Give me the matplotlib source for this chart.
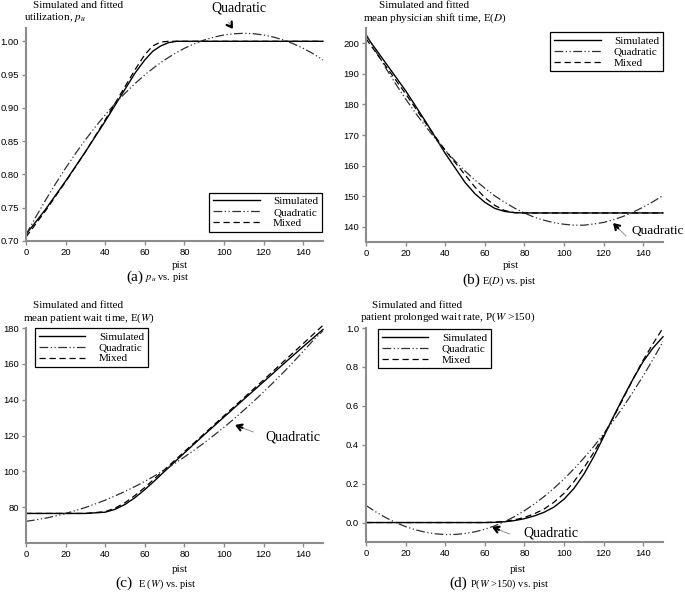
import matplotlib
matplotlib.use("Agg")
import matplotlib.pyplot as plt

plt.rcParams['mathtext.fontset'] = 'stix'
SERIF = ['Liberation Serif', 'DejaVu Serif']
SANS = ['Liberation Sans', 'DejaVu Sans']

# ---------------- data ----------------
pist_q = [0, 5, 10, 15, 20, 25, 30, 35, 40, 45, 50, 55, 60, 65, 70, 75,
          80, 85, 90, 95, 100, 105, 110, 115, 120, 125, 130, 135, 140, 145, 150]

# (a) utilization
pist_a = [0, 10, 20, 30, 40, 50, 55, 60, 64, 68, 72, 76, 80, 90, 100, 110, 120, 130, 140, 150]
util_sim = [0.710, 0.748, 0.790, 0.834, 0.880, 0.928, 0.952, 0.972, 0.985, 0.993, 0.998,
            1.0, 1.0, 1.0, 1.0, 1.0, 1.0, 1.0, 1.0, 1.0]
util_mix = [0.706, 0.746, 0.789, 0.834, 0.882, 0.932, 0.957, 0.980, 0.993, 0.999, 1.0,
            1.0, 1.0, 1.0, 1.0, 1.0, 1.0, 1.0, 1.0, 1.0]
util_quad = [0.7095, 0.7364, 0.762, 0.7864, 0.8095, 0.8314, 0.852, 0.8714, 0.8895, 0.9064,
             0.922, 0.9364, 0.9495, 0.9614, 0.972, 0.9814, 0.9895, 0.9964, 1.002, 1.0064,
             1.0095, 1.0114, 1.012, 1.0114, 1.0095, 1.0064, 1.002, 0.9964, 0.9895, 0.9814, 0.972]

# (b) mean physician shift time
pist_b = [0, 10, 20, 30, 40, 50, 55, 60, 65, 70, 75, 80, 90, 100, 110, 120, 130, 140, 150]
shift_sim = [202.5, 193.5, 184.5, 174.5, 164.0, 154.5, 150.8, 148.0, 146.0, 145.0, 144.6,
             144.5, 144.5, 144.5, 144.5, 144.5, 144.5, 144.5, 144.5]
shift_mix = [201.5, 192.5, 183.5, 174.0, 165.0, 157.0, 153.0, 149.5, 147.0, 145.3, 144.6,
             144.5, 144.5, 144.5, 144.5, 144.5, 144.5, 144.5, 144.5]
shift_quad = [203.0, 197.3, 191.9, 186.7, 181.8, 177.2, 172.9, 168.8, 165.0, 161.5, 158.2,
              155.3, 152.6, 150.1, 148.0, 146.1, 144.5, 143.1, 142.1, 141.3, 140.8, 140.5,
              140.5, 140.9, 141.4, 142.3, 143.4, 144.8, 146.4, 148.2, 150.2]

# (c) mean patient wait time
pist_c = [0, 10, 20, 30, 40, 45, 50, 55, 60, 65, 70, 80, 90, 100, 110, 120, 130, 140, 150]
wait_sim = [76.5, 76.5, 76.5, 76.5, 77.2, 78.8, 81.5, 85.3, 89.8, 94.8, 100.0, 110.3,
            120.4, 130.3, 140.2, 150.0, 159.9, 169.6, 179.2]
wait_mix = [76.5, 76.5, 76.5, 76.5, 77.5, 79.5, 82.5, 86.5, 91.0, 96.0, 101.0, 111.0,
            121.0, 131.0, 141.0, 151.0, 161.2, 171.3, 181.5]
wait_quad = [72.1, 72.9, 73.9, 75.1, 76.5, 78.1, 79.8, 81.8, 83.9, 86.3, 88.8, 91.5, 94.4,
             97.5, 100.8, 104.3, 108.0, 111.9, 115.9, 120.2, 124.6, 129.2, 134.1, 139.1,
             144.3, 149.7, 155.2, 161.0, 167.0, 173.0, 178.5]

# (d) prolonged wait rate
pist_d = [0, 10, 20, 30, 40, 50, 60, 65, 70, 75, 80, 85, 90, 95, 100, 105, 110, 115, 120,
          125, 130, 135, 140, 145, 150]
prol_sim = [0, 0, 0, 0, 0, 0, 0, 0.001, 0.004, 0.010, 0.020, 0.034, 0.053, 0.080, 0.120,
            0.175, 0.248, 0.338, 0.440, 0.545, 0.645, 0.740, 0.828, 0.898, 0.955]
prol_mix = [0, 0, 0, 0, 0, 0, 0, 0.002, 0.006, 0.014, 0.026, 0.045, 0.070, 0.105, 0.150,
            0.210, 0.280, 0.360, 0.450, 0.540, 0.640, 0.740, 0.835, 0.920, 1.0]
prol_quad = [0.088, 0.0544, 0.0251, 0.0, -0.0208, -0.0374, -0.0497, -0.0578, -0.0616, -0.0612,
             -0.0565, -0.0476, -0.0344, -0.017, 0.0047, 0.0306, 0.0608, 0.0952, 0.1339, 0.1768,
             0.224, 0.2754, 0.3311, 0.391, 0.4552, 0.5236, 0.5963, 0.6732, 0.7544, 0.8398, 0.93]

x_ticks = [0, 20, 40, 60, 80, 100, 120, 140]

# ---------------- figure ----------------
W, H = 685, 592
fig = plt.figure(figsize=(W / 100, H / 100), dpi=100)


def rect(x0, y0, x1, y1):
    return [x0 / W, 1 - y1 / H, (x1 - x0) / W, (y1 - y0) / H]


def ftext(x, y, s, size=8, ha='left', **kw):
    fig.text(x / W, 1 - y / H, s, fontsize=size, ha=ha, va='center',
             family=SERIF, **kw)


SIM_KW = dict(color='black', lw=1.0, ls='-', label='Simulated', clip_on=False)
QUAD_KW = dict(color='#303030', lw=0.9, ls=(0, (7, 2, 1, 2, 1, 2)), label='Quadratic', clip_on=False)
MIX_KW = dict(color='black', lw=0.9, ls=(0, (5, 3)), label='Mixed', clip_on=False)


def style(ax, ylim, yticks, yfmt):
    for s in ['top', 'right']:
        ax.spines[s].set_visible(False)
    for s in ['left', 'bottom']:
        ax.spines[s].set_color('#8c8c8c')
        ax.spines[s].set_linewidth(1.5)
    ax.set_xlim(0, 150)
    ax.set_ylim(*ylim)
    ax.set_xticks(x_ticks)
    ax.set_yticks(yticks)
    ax.set_yticklabels([yfmt.format(v) for v in yticks])
    ax.tick_params(direction='out', length=3, width=1, color='#8c8c8c',
                   labelsize=6.8, pad=2)
    for lab in ax.get_xticklabels() + ax.get_yticklabels():
        lab.set_family(SANS)


def legend(ax, loc, anchor):
    leg = ax.legend(loc=loc, bbox_to_anchor=anchor, borderaxespad=0,
                    fancybox=False, edgecolor='black', framealpha=1,
                    prop={'family': SERIF, 'size': 8}, handlelength=4.2,
                    labelspacing=0.1, borderpad=0.35, handletextpad=1.2)
    leg.get_frame().set_linewidth(0.9)


def arrow(x0, y0, x1, y1):
    # thin grey shaft, black head
    fig.add_artist(matplotlib.patches.FancyArrowPatch(
        (x0, H - y0), (x1, H - y1), transform=None, arrowstyle='-',
        color='#909090', lw=0.7))
    fig.add_artist(matplotlib.patches.FancyArrowPatch(
        (x1 + (x0 - x1) * 0.35, H - (y1 + (y0 - y1) * 0.35)), (x1, H - y1),
        transform=None, arrowstyle='->,head_length=3.5,head_width=2.2',
        color='black', lw=1.6, shrinkA=0, shrinkB=0))


# (a)
axa = fig.add_axes(rect(26, 28, 323, 241))
axa.plot(pist_a, util_sim, **SIM_KW)
axa.plot(pist_q, util_quad, **QUAD_KW)
axa.plot(pist_a, util_mix, **MIX_KW)
style(axa, (0.70, 1.02), [0.70, 0.75, 0.80, 0.85, 0.90, 0.95, 1.00], '{:.2f}')
legend(axa, 'lower right', (0.997, 0.042))
ftext(33, 6, 'Simulated and fitted')
ftext(24, 18, 'utilization, $p_u$')
ftext(172, 266, 'pist')
ftext(143, 277, '(a)', size=11, ha='right')
ftext(145, 278, '$p_u$ vs. pist', size=7.5)
ftext(239, 8, 'Quadratic', size=10, ha='center')
arrow(227, 20, 233, 29)

# (b)
axb = fig.add_axes(rect(366, 28, 663, 242))
axb.plot(pist_b, shift_sim, **SIM_KW)
axb.plot(pist_q, shift_quad, **QUAD_KW)
axb.plot(pist_b, shift_mix, **MIX_KW)
style(axb, (135, 205), [140, 150, 160, 170, 180, 190, 200], '{:.0f}')
legend(axb, 'upper right', (1.0, 0.981))
ftext(379, 5, 'Simulated and fitted')
ftext(363, 18, 'mean physician shift time, E($D$)')
ftext(503, 266, 'pist')
ftext(480, 280, '(b)', size=11, ha='right')
ftext(482, 281, 'E($D$) vs. pist', size=7.5)
ftext(631, 231, 'Quadratic', size=9.5)
arrow(628, 238, 613, 223)

# (c)
axc = fig.add_axes(rect(26, 328, 323, 543))
axc.plot(pist_c, wait_sim, **SIM_KW)
axc.plot(pist_q, wait_quad, **QUAD_KW)
axc.plot(pist_c, wait_mix, **MIX_KW)
style(axc, (60, 180), [80, 100, 120, 140, 160, 180], '{:.0f}')
legend(axc, 'upper left', (0.03, 1.0))
ftext(33, 305, 'Simulated and fitted')
ftext(23, 318, 'mean patient wait time, E($W$)')
ftext(172, 570, 'pist')
ftext(133, 583, '(c)', size=11, ha='right')
ftext(138, 584, 'E ($W$) vs. pist', size=7.5)
ftext(265, 437, 'Quadratic', size=10)
arrow(256, 433, 235, 425)

# (d)
axd = fig.add_axes(rect(366, 328, 663, 542))
axd.plot(pist_d, prol_sim, **SIM_KW)
axd.plot(pist_q, prol_quad, **QUAD_KW)
axd.plot(pist_d, prol_mix, **MIX_KW)
style(axd, (-0.1, 1.0), [0.0, 0.2, 0.4, 0.6, 0.8, 1.0], '{:.1f}')
legend(axd, 'upper left', (0.04, 0.995))
ftext(372, 305, 'Simulated and fitted')
ftext(360, 317, 'patient prolonged wait rate, P($W$ >150)')
ftext(510, 570, 'pist')
ftext(467, 583, '(d)', size=11, ha='right')
ftext(470, 584, 'P($W$ >150) vs. pist', size=7.5)
ftext(523, 533, 'Quadratic', size=10)
arrow(512, 535, 492, 527)

fig.savefig('out.png', dpi=100)
